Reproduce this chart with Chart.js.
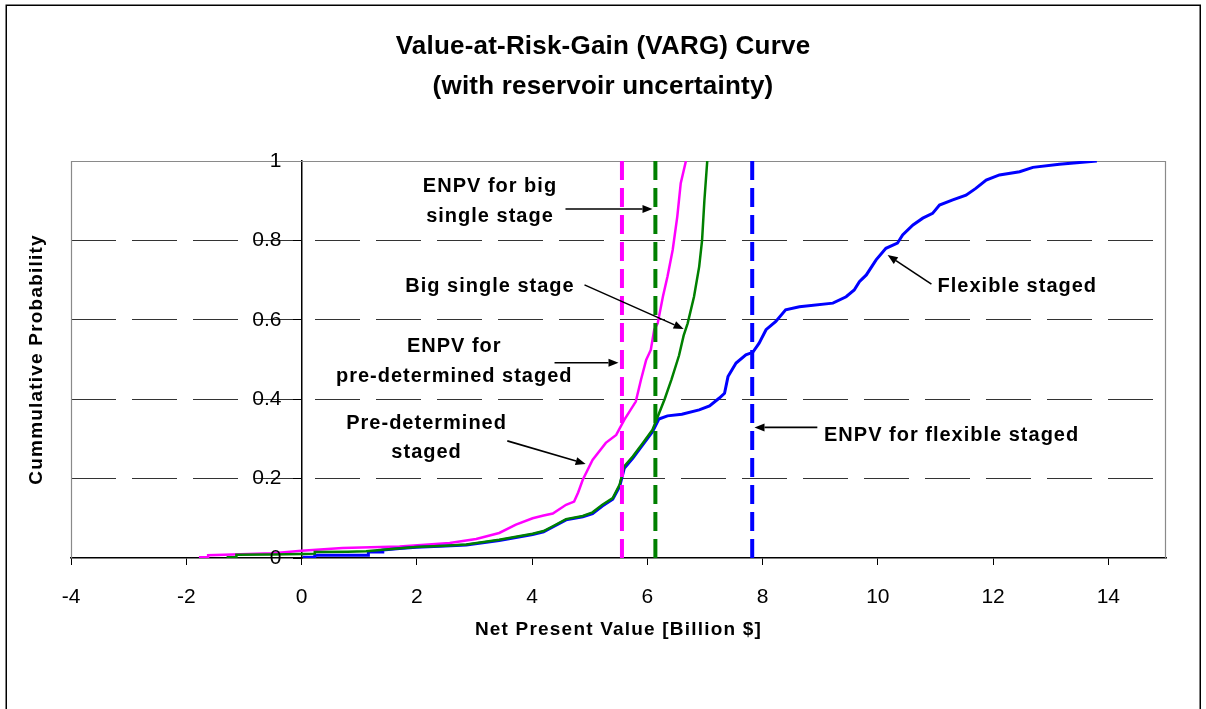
<!DOCTYPE html>
<html>
<head>
<meta charset="utf-8">
<title>Value-at-Risk-Gain (VARG) Curve</title>
<script src="https://cdn.jsdelivr.net/npm/chart.js@4.4.1/dist/chart.umd.min.js"></script>
<style>
  html, body { margin: 0; padding: 0; background: #ffffff; }
  canvas { display: block; }
</style>
</head>
<body>
<canvas id="varg" width="1206" height="709"></canvas>
<script>
// ---- Data: cumulative probability vs. net present value (billion $) ----
const pdNpv  = [-1.78, -1.62, -1.62, -1.20, -0.50, 0.00, 0.71, 1.20, 1.70, 2.20, 2.57, 3.03, 3.43, 3.72, 4.01, 4.20, 4.36, 4.59, 4.73, 4.80, 4.88, 5.05, 5.28, 5.46, 5.60, 5.80, 5.89, 5.98, 6.06, 6.12, 6.18, 6.27, 6.35, 6.44, 6.52, 6.58, 6.67];
const pdProb = [0.002, 0.002, 0.007, 0.009, 0.012, 0.018, 0.025, 0.027, 0.029, 0.034, 0.038, 0.048, 0.063, 0.084, 0.100, 0.107, 0.112, 0.134, 0.142, 0.165, 0.197, 0.247, 0.290, 0.310, 0.348, 0.394, 0.449, 0.499, 0.524, 0.575, 0.591, 0.658, 0.709, 0.776, 0.860, 0.944, 1.000];

const bigNpv  = [-1.30, -1.13, -1.13, -0.50, 0.00, 0.23, 0.23, 0.80, 1.12, 1.41, 1.99, 2.50, 2.86, 3.43, 4.01, 4.20, 4.36, 4.59, 4.88, 5.05, 5.22, 5.40, 5.52, 5.60, 5.75, 5.92, 6.09, 6.18, 6.30, 6.42, 6.55, 6.63, 6.70, 6.81, 6.90, 6.95, 6.99, 7.04];
const bigProb = [0.002, 0.002, 0.008, 0.009, 0.010, 0.011, 0.015, 0.016, 0.017, 0.021, 0.028, 0.031, 0.034, 0.046, 0.061, 0.068, 0.080, 0.098, 0.106, 0.115, 0.134, 0.151, 0.185, 0.231, 0.256, 0.289, 0.323, 0.356, 0.400, 0.450, 0.510, 0.560, 0.591, 0.658, 0.734, 0.800, 0.900, 1.000];

const flexNpv  = [0.02, 0.23, 0.23, 1.16, 1.16, 1.41, 1.41, 1.70, 1.99, 2.50, 2.86, 3.43, 4.01, 4.20, 4.36, 4.59, 4.88, 5.05, 5.22, 5.40, 5.52, 5.60, 5.75, 5.92, 6.09, 6.20, 6.35, 6.60, 6.90, 7.08, 7.25, 7.34, 7.40, 7.54, 7.71, 7.83, 7.94, 8.06, 8.23, 8.40, 8.64, 9.22, 9.45, 9.59, 9.68, 9.80, 9.97, 10.14, 10.34, 10.43, 10.61, 10.78, 10.95, 11.07, 11.30, 11.53, 11.70, 11.88, 12.11, 12.46, 12.69, 13.15, 13.80];
const flexProb = [0.002, 0.002, 0.007, 0.007, 0.015, 0.015, 0.020, 0.024, 0.027, 0.030, 0.033, 0.044, 0.059, 0.066, 0.078, 0.096, 0.104, 0.112, 0.131, 0.148, 0.180, 0.226, 0.252, 0.285, 0.318, 0.350, 0.358, 0.362, 0.373, 0.383, 0.403, 0.415, 0.457, 0.491, 0.512, 0.518, 0.541, 0.575, 0.596, 0.625, 0.633, 0.642, 0.658, 0.675, 0.696, 0.713, 0.751, 0.780, 0.793, 0.814, 0.839, 0.856, 0.868, 0.889, 0.902, 0.914, 0.931, 0.952, 0.965, 0.973, 0.984, 0.992, 1.000];

// Expected NPV of each strategy (pre-determined, big single, flexible)
const enpvNames  = ['ENPV pre-determined staged', 'ENPV big single stage', 'ENPV flexible staged'];
const enpvValues = [5.56, 6.14, 7.82];

const xTickValues = [-4, -2, 0, 2, 4, 6, 8, 10, 12, 14];
const yTickLabels = ['0', '0.2', '0.4', '0.6', '0.8', '1'];

const titleLines = ['Value-at-Risk-Gain (VARG) Curve', '(with reservoir uncertainty)'];
const xAxisTitle = 'Net Present Value [Billion $]';
const yAxisTitle = 'Cummulative Probability';

// Callout labels (anchored in data units) and their arrows
const calloutLabels = [
  { lines: ['ENPV for big', 'single stage'], x: 3.27, y: [0.935, 0.859] },
  { lines: ['Big single stage'], x: 3.27, y: [0.685] },
  { lines: ['ENPV for', 'pre-determined staged'], x: 2.65, y: [0.532, 0.456] },
  { lines: ['Pre-determined', 'staged'], x: 2.17, y: [0.338, 0.265] },
  { lines: ['Flexible staged'], x: 12.42, y: [0.685] },
  { lines: ['ENPV for flexible staged'], x: 11.28, y: [0.308] }
];
const calloutArrows = [
  [4.58, 0.879, 6.09, 0.879],
  [4.91, 0.688, 6.63, 0.577],
  [4.39, 0.492, 5.50, 0.492],
  [3.57, 0.295, 4.93, 0.237],
  [10.93, 0.690, 10.17, 0.763],
  [8.95, 0.329, 7.86, 0.329]
];

const FONT = "'Liberation Sans', Arial, Helvetica, sans-serif";

const toPoints = (xs, ys) => xs.map((x, i) => ({ x: x, y: ys[i] }));
const enpvColors = ['#ff00ff', '#008000', '#0000ff'];

const enpvSets = enpvValues.map((v, i) => ({
  label: enpvNames[i],
  data: [{ x: v, y: 0 }, { x: v, y: 1 }],
  borderColor: enpvColors[i],
  borderWidth: 4,
  borderDash: [19, 8],
  borderCapStyle: 'butt',
  pointRadius: 0,
  fill: false
}));

const curveSets = [
  { label: 'Big single stage', data: toPoints(bigNpv, bigProb), borderColor: '#008000', borderWidth: 2.5 },
  { label: 'Flexible staged', data: toPoints(flexNpv, flexProb), borderColor: '#0000ff', borderWidth: 3 },
  { label: 'Pre-determined staged', data: toPoints(pdNpv, pdProb), borderColor: '#ff00ff', borderWidth: 2.5 }
].map(d => Object.assign(d, { pointRadius: 0, tension: 0, fill: false, borderJoinStyle: 'miter' }));

function drawText(ctx, text, x, y, size, bold, spacing, align) {
  ctx.save();
  ctx.font = (bold ? 'bold ' : '') + size + 'px ' + FONT;
  ctx.fillStyle = '#000';
  ctx.textAlign = align || 'center';
  ctx.textBaseline = 'middle';
  ctx.letterSpacing = spacing + 'px';
  ctx.fillText(text, x, y);
  ctx.restore();
}

function drawArrow(ctx, x1, y1, x2, y2) {
  const ang = Math.atan2(y2 - y1, x2 - x1);
  const head = 10, half = 4;
  const bx = x2 - head * Math.cos(ang), by = y2 - head * Math.sin(ang);
  ctx.save();
  ctx.strokeStyle = '#000';
  ctx.fillStyle = '#000';
  ctx.lineWidth = 1.6;
  ctx.beginPath();
  ctx.moveTo(x1, y1);
  ctx.lineTo(bx, by);
  ctx.stroke();
  ctx.beginPath();
  ctx.moveTo(x2, y2);
  ctx.lineTo(bx + half * Math.sin(ang), by - half * Math.cos(ang));
  ctx.lineTo(bx - half * Math.sin(ang), by + half * Math.cos(ang));
  ctx.closePath();
  ctx.fill();
  ctx.restore();
}

const chartDecor = {
  id: 'chartDecor',
  beforeDraw(chart) {
    const ctx = chart.ctx;
    ctx.save();
    ctx.fillStyle = '#ffffff';
    ctx.fillRect(0, 0, chart.width, chart.height);
    ctx.strokeStyle = '#000';
    ctx.lineWidth = 1.5;
    ctx.strokeRect(6.25, 5.25, 1194, 730);
    ctx.restore();
  },
  beforeDatasetsDraw(chart) {
    // grey frame of the plot area (bottom edge is the x axis)
    const { left, top, right, bottom } = chart.chartArea;
    const ctx = chart.ctx;
    ctx.save();
    ctx.strokeStyle = '#8a8a8a';
    ctx.lineWidth = 1.2;
    ctx.beginPath();
    ctx.moveTo(left + 0.5, bottom);
    ctx.lineTo(left + 0.5, top + 0.5);
    ctx.lineTo(right - 0.5, top + 0.5);
    ctx.lineTo(right - 0.5, bottom);
    ctx.stroke();
    ctx.restore();
  },
  afterDatasetsDraw(chart) {
    const ctx = chart.ctx;
    const sx = chart.scales.x, sy = chart.scales.y;
    calloutLabels.forEach(c => {
      c.lines.forEach((t, i) => {
        drawText(ctx, t, sx.getPixelForValue(c.x), sy.getPixelForValue(c.y[i]), 20, true, 1, 'center');
      });
    });
    calloutArrows.forEach(a => {
      drawArrow(ctx, sx.getPixelForValue(a[0]), sy.getPixelForValue(a[1]),
                     sx.getPixelForValue(a[2]), sy.getPixelForValue(a[3]));
    });
  },
  afterDraw(chart) {
    const ctx = chart.ctx;
    const area = chart.chartArea;
    const sx = chart.scales.x, sy = chart.scales.y;
    // y tick labels sit left of the axis that crosses at x = 0
    const axisX = sx.getPixelForValue(0);
    sy.ticks.forEach((t, i) => {
      drawText(ctx, yTickLabels[i], axisX - 20, sy.getPixelForValue(t.value), 21, false, 0, 'right');
    });
    drawText(ctx, titleLines[0], 603, 47, 26, true, 0.2, 'center');
    drawText(ctx, titleLines[1], 603, 87, 26, true, 0.2, 'center');
    drawText(ctx, xAxisTitle, (area.left + area.right) / 2, 630, 19, true, 1.2, 'center');
    ctx.save();
    ctx.translate(37, (area.top + area.bottom) / 2);
    ctx.rotate(-Math.PI / 2);
    drawText(ctx, yAxisTitle, 0, 0, 19, true, 1.2, 'center');
    ctx.restore();
  }
};

new Chart(document.getElementById('varg'), {
  type: 'line',
  data: { datasets: enpvSets.slice().reverse().concat(curveSets) },
  options: {
    responsive: false,
    animation: false,
    devicePixelRatio: 1,
    layout: { padding: { top: 161, left: 71, right: 40, bottom: 0 } },
    plugins: {
      legend: { display: false },
      title: { display: false },
      tooltip: { enabled: false }
    },
    scales: {
      x: {
        type: 'linear',
        min: -4,
        max: 15,
        afterFit(scale) { scale.height = 151; },
        afterBuildTicks(scale) { scale.ticks = xTickValues.map(v => ({ value: v })); },
        ticks: {
          stepSize: 2,
          includeBounds: false,
          padding: 20,
          color: '#000',
          font: { family: FONT, size: 21 },
          maxRotation: 0
        },
        grid: {
          drawOnChartArea: false,
          drawTicks: true,
          tickLength: 7,
          tickColor: '#000',
          tickWidth: 1
        },
        border: { display: true, color: '#000', width: 1.5 }
      },
      y: {
        type: 'linear',
        min: 0,
        max: 1,
        position: { x: 0 },
        ticks: {
          stepSize: 0.2,
          display: false
        },
        grid: {
          drawOnChartArea: true,
          drawTicks: true,
          tickLength: 8,
          lineWidth: 1,
          color: c => (c.tick && (c.tick.value === 0 || c.tick.value === 1)) ? 'rgba(0,0,0,0)' : '#333333',
          tickColor: '#000',
          tickWidth: 1,
          tickBorderDash: []
        },
        border: { display: true, color: '#000', width: 1.5, dash: [45, 16] }
      }
    }
  },
  plugins: [chartDecor]
});
</script>
</body>
</html>
